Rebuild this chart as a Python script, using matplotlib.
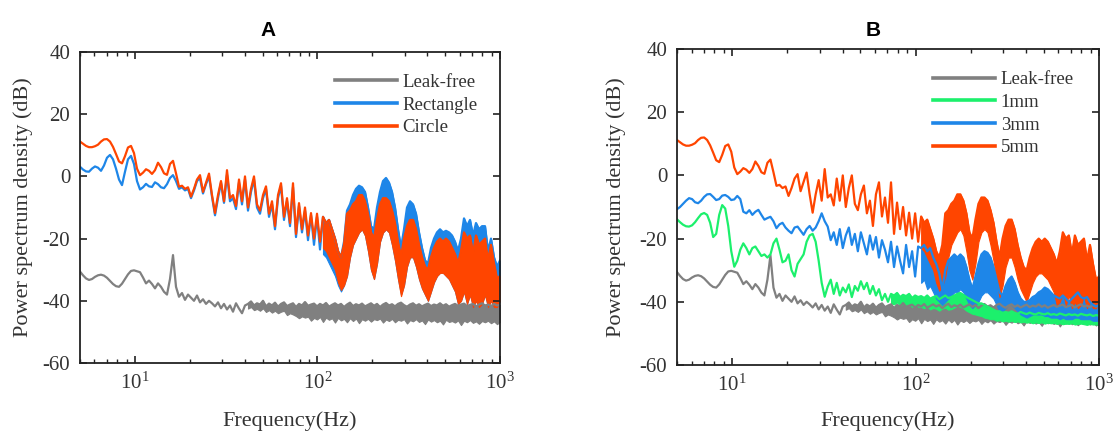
import numpy as np
import matplotlib
matplotlib.use('Agg')
import matplotlib.pyplot as plt
from matplotlib.ticker import LogLocator, NullFormatter, FixedLocator

# sample frequencies (Hz), log-spaced grid on which values were read
freq = np.geomspace(5, 1000, 141)

# ---------------- values (dB) ----------------
leak_db = [
    -30.6, -31.8, -32.8, -33.3, -33.0, -32.3, -31.8, -31.6, -31.9, -32.6,
    -33.6, -34.6, -35.3, -35.5, -34.5, -33.0, -31.5, -30.4, -30.2, -30.5,
    -30.8, -32.5, -34.4, -33.5, -34.6, -36.0, -34.4, -35.5, -37.1, -38.0,
    -33.0, -25.3, -35.5, -38.7, -37.5, -39.7, -38.0, -39.0, -40.0, -38.3,
    -40.5, -39.5, -41.0, -40.0, -40.8, -41.8, -40.5, -42.4, -41.0, -42.8,
    -41.5, -43.5, -40.8, -42.5, -44.0, -41.5,
    -41.0, -40.2, -41.5, -40.8, -41.2, -40.0, -41.8, -40.9, -41.5, -40.6,
    -41.9, -41.0, -40.5, -41.7, -41.2, -40.8, -42.0, -41.0, -41.5, -40.4,
    -41.6, -41.2, -40.9, -41.8, -41.0, -41.5, -40.7, -41.9, -41.3, -40.8,
    -41.5, -41.0, -42.0, -41.2, -40.6, -41.7, -41.1, -41.5, -40.9, -41.8,
    -41.3, -40.8, -41.6, -41.0, -42.0, -41.2, -40.7, -41.5, -41.1, -41.8,
    -41.0, -40.6, -41.4, -41.9, -41.2, -40.8, -41.6, -41.1, -41.8, -41.3,
    -40.9, -41.7, -41.2, -41.5, -40.8, -41.6, -41.1, -41.9, -41.4, -41.0,
    -41.6, -41.2, -40.9, -41.7, -41.3, -41.0, -41.8, -41.2, -40.8, -41.5,
    -41.2, -41.7, -41.0, -41.5, -41.3]
leak_floor = [  # lower edge of the noise band, from sample 56 on
    -42.5, -42.0, -43.0, -42.6, -43.2, -42.4, -43.6, -43.0, -43.8, -43.2,
    -44.0, -43.5, -43.2, -44.6, -44.0, -44.4, -44.9, -45.6, -45.0, -45.4,
    -45.1, -46.4, -45.5, -46.0, -45.2, -46.8, -45.4, -46.1, -45.6, -47.0,
    -45.5, -46.3, -45.8, -46.9, -45.6, -46.5, -45.7, -47.2, -45.9, -46.4,
    -45.8, -46.7, -45.9, -46.2, -45.7, -47.0, -46.0, -46.5, -45.8, -46.9,
    -46.1, -46.4, -45.9, -47.3, -46.2, -46.6, -45.9, -46.8, -46.3, -47.5,
    -46.0, -46.7, -46.2, -46.9, -46.4, -47.6, -46.1, -46.8, -46.5, -47.0,
    -46.3, -47.8, -46.4, -46.9, -46.2, -47.1, -46.6, -47.4, -46.5, -46.9,
    -46.4, -47.2, -46.6, -47.5, -46.8]

circle_db = [  # also the 5mm series in panel B
    11.2, 10.5, 9.8, 9.4, 9.4, 9.7, 10.2, 11.2, 11.9, 12.0,
    11.2, 9.5, 7.2, 4.8, 4.2, 6.5, 9.3, 9.8, 7.5, 2.5,
    0.4, 1.2, 2.3, 1.8, 0.8, 2.0, 4.4, 3.0, 1.0, 0.5,
    4.0, 5.0, 1.0, -3.3, -3.0, -4.0, -3.5, -6.5, -4.0, -1.0,
    0.4, -5.0, -2.0, 0.9, -6.0, -11.8, -6.0, -1.5, -8.0, 2.0,
    -7.0, -6.0, -9.5, -1.0, -8.0, 0.0, -10.0, -4.0, 0.0, -9.0,
    -11.0, -6.0, -3.2, -12.0, -8.0, -16.0, -6.0, -2.2, -13.0, -7.0,
    -15.0, -2.2, -18.5, -8.6, -17.0, -10.0, -19.0, -11.8, -20.0, -12.0,
    -21.0, -13, -15, -14, -17, -20, -24, -26, -22, -12,
    -11, -9, -8, -6, -6, -8, -12, -18, -20, -14,
    -9, -7, -7, -8, -11, -15, -21, -26, -20, -16,
    -14, -14, -17, -22, -26, -29, -30, -26, -23, -21,
    -20, -21, -20, -21, -23, -25, -28, -24, -18, -20,
    -19, -25, -19, -22, -21, -20, -27, -22, -28, -33, -32]
circle_floor = [  # from sample 81 on
    -23, -24, -26, -28, -30, -34, -36.5, -35, -32, -26,
    -22, -20, -18, -17, -19, -24, -30, -33, -28, -21,
    -18, -17, -18, -22, -27, -33, -38.5, -35, -29, -26,
    -26, -29, -33, -36, -38, -40, -37, -34, -32, -31,
    -31, -32, -33, -35, -37, -41, -40, -37, -41, -38,
    -42, -40, -42, -41, -38, -42, -40, -42, -42, -40]

rect_db = [
    3.1, 2.2, 1.6, 1.5, 2.5, 3.2, 2.8, 1.8, 3.5, 6.0,
    6.9, 5.5, 2.5, -1.0, -2.8, 1.5, 5.5, 6.6, 4.0, -1.5,
    -4.2, -3.5, -2.4, -3.2, -3.4, -1.9, -2.5, -3.5, -3.8, -2.5,
    -0.5, 0.4, -1.5, -4.0, -3.5, -4.5, -4.0, -7.0, -4.5, -1.5,
    -0.5, -5.5, -2.5, 0.0, -6.5, -12.5, -7.0, -2.0, -8.5, 0.5,
    -8.0, -7.0, -10.5, -2.0, -9.0, -1.0, -11.0, -5.0, -1.0, -10.0,
    -12.0, -7.0, -4.0, -13.0, -9.0, -17.0, -7.0, -3.0, -14.0, -8.0,
    -16.0, -3.5, -19.5, -9.5, -18.0, -11.0, -20.5, -12.5, -22.0, -13.0,
    -23.5, -13, -15, -14, -17, -20, -24, -26, -21, -11,
    -9, -6, -4, -3, -3.5, -5, -10, -16, -17, -10,
    -5, -1.5, -0.5, -2, -5, -10, -17, -23, -17, -10,
    -8, -9, -12, -18, -23, -27, -28, -23, -20, -18,
    -17, -18, -17.5, -18, -19, -21, -24, -20, -13.5, -16,
    -14, -19, -15, -17, -16, -16, -24, -20, -26, -29, -27]
rect_floor = [  # from sample 81 on
    -25, -26, -28, -30, -32, -35, -37, -35, -32, -26,
    -22, -20, -18, -17, -19, -24, -30, -33, -28, -21,
    -18, -17, -18, -22, -27, -33, -38, -35, -29, -26,
    -26, -29, -33, -36, -38, -40, -37, -34, -32, -31,
    -31, -32, -33, -35, -37, -41, -40, -37, -41, -38,
    -42, -40, -42, -41, -38, -42, -40, -42, -42, -40]

mm1_db = [
    -13.9, -14.8, -15.6, -16.1, -16.2, -15.8, -14.8, -13.5, -12.3, -11.9,
    -12.5, -15.0, -19.5, -18.5, -12.5, -9.4, -10.5, -16.0, -24.0, -28.9,
    -27.0, -23.5, -21.5, -23.0, -25.0, -23.0, -22.5, -24.0, -25.5, -25.0,
    -26.0, -25.0, -21.5, -20.0, -23.5, -27.5, -27.0, -25.0, -30.0, -32.0,
    -28.0, -26.5, -25.0, -21.0, -19.0, -18.5, -21.0, -27.0, -34.0, -38.4,
    -35.2, -33.0, -37.5, -34.0, -38.0, -35.5, -37.0, -34.5, -38.5, -35.0,
    -36.5, -33.5, -36.0, -34.0, -37.5, -35.0, -38.0, -36.0, -39.5, -37.5,
    -40.0,
    -37.5, -38.0, -37.2, -38.5, -37.8, -38.2, -37.5, -38.8, -38.0, -38.5,
    -38.2, -38.8, -38.0, -39.0, -38.5, -38.2, -39.2, -38.6, -38.0, -38.8,
    -38.5, -38.0, -37.5, -37.2, -37.8, -38.5, -39.0, -39.5, -40.0, -40.5,
    -40.5, -41.0, -41.5, -42.0, -42.5, -43.0, -43.0, -43.5, -43.2, -43.5,
    -43.0, -43.5, -43.8, -43.2, -43.6, -43.9, -43.4, -43.8, -44.0, -43.5,
    -43.8, -44.0, -43.6, -44.1, -43.9, -44.2, -43.7, -44.0, -44.3, -43.9,
    -44.2, -44.0, -44.4, -43.8, -44.1, -44.3, -44.0, -44.5, -44.2, -44.4]
mm1_floor = [  # from sample 71 on
    -40.5, -40.8, -40.2, -41.2, -40.6, -41.3, -40.6, -41.6, -41.0, -41.5,
    -41.6, -42.0, -41.5, -42.4, -41.9, -42.2, -42.8, -42.1, -41.8, -42.5,
    -42.3, -41.8, -41.3, -41.5, -42.0, -42.8, -43.3, -43.8, -44.0, -44.3,
    -44.5, -45.0, -45.2, -45.5, -45.5, -46.0, -45.8, -46.2, -46.0, -46.3,
    -46.0, -46.4, -46.2, -46.5, -46.3, -46.6, -46.4, -46.8, -46.5, -46.7,
    -46.5, -46.9, -46.6, -46.8, -46.7, -47.0, -46.8, -47.1, -46.9, -47.0,
    -46.8, -47.2, -47.0, -46.9, -47.1, -47.3, -47.0, -47.2, -47.1, -47.4]

mm3_db = [
    -10.7, -10.0, -9.0, -8.0, -7.2, -7.5, -8.5, -8.8, -8.0, -6.8,
    -6.0, -5.9, -6.8, -7.8, -7.5, -6.4, -6.2, -6.8, -7.8, -7.6,
    -6.5, -7.5, -11.5, -12.0, -11.0, -12.5, -11.5, -10.9, -12.5, -14.0,
    -13.5, -13.1, -14.5, -16.7, -15.5, -15.0, -16.5, -17.5, -18.3, -16.5,
    -16.2, -17.5, -18.8, -17.0, -16.0, -17.5, -16.5, -14.5, -12.0, -14.5,
    -16.2, -20.5, -18.0, -22.0, -17.0, -23.0, -19.0, -16.5, -22.0, -18.5,
    -24.0, -18.0, -21.5, -25.0, -19.0, -23.5, -19.5, -26.0, -20.5, -23.5,
    -27.5, -21.0, -29.0, -22.5, -27.0, -31.0, -22.0, -29.0, -24.0, -32.0,
    -22.5, -23, -22, -24, -23, -26, -28, -31, -36, -30,
    -27, -26, -25, -26, -25, -26, -29, -33, -36, -32,
    -28, -25, -24, -24.5, -26, -29, -33, -37, -38, -35,
    -33, -32, -34, -37, -39, -40, -40, -39.5, -38.5, -38,
    -37, -36.5, -35.5, -36, -37, -38, -38.5, -39, -38, -39,
    -40, -39, -38, -37, -38.5, -39, -38.5, -40, -41, -41.5, -41]
mm3_floor = [  # from sample 81 on
    -34, -33, -36, -35, -37, -39, -40, -41, -40, -39,
    -38, -37, -37, -36, -37, -39, -41, -42, -41, -40,
    -38, -37, -37, -38, -39, -41, -43, -43, -42, -41,
    -41, -42, -43, -44, -44.5, -45, -44.5, -44, -44, -44,
    -44, -44.5, -44.5, -45, -45, -45, -45.5, -45, -45.5, -45.5,
    -45.5, -45, -45, -45.5, -45.5, -45.5, -45.5, -46, -46, -46]

# ---------------- style ----------------
plt.rcParams['font.family'] = ['Liberation Serif', 'DejaVu Serif']
plt.rcParams['mathtext.fontset'] = 'custom'
plt.rcParams['mathtext.rm'] = 'Liberation Serif'
plt.rcParams['mathtext.it'] = 'Liberation Serif:italic'
plt.rcParams['axes.unicode_minus'] = False

GRAY = '#808080'
BLUE = '#1E86E8'
RED = '#FF4500'
GREEN = '#1CF06C'

fig = plt.figure(figsize=(11.17, 4.32), dpi=100)
axA = fig.add_axes([80 / 1117, 1 - 363 / 432, 420 / 1117, 311 / 432])
axB = fig.add_axes([677 / 1117, 1 - 365 / 432, 422 / 1117, 316 / 432])


def draw(ax, db, floor, start, color, label):
    db = np.asarray(db, dtype=float)
    line, = ax.plot(freq, db, color=color, lw=1.6, label=label,
                    solid_joinstyle='round')
    if floor is not None:
        ax.fill_between(freq[start:], floor, db[start:], color=color,
                        lw=0.8)
    return line


hA = [draw(axA, leak_db, leak_floor, 56, GRAY, 'Leak-free'),
      draw(axA, rect_db, rect_floor, 81, BLUE, 'Rectangle'),
      draw(axA, circle_db, circle_floor, 81, RED, 'Circle')]
hB = [draw(axB, leak_db, leak_floor, 56, GRAY, 'Leak-free'),
      draw(axB, mm1_db, mm1_floor, 71, GREEN, '1mm'),
      draw(axB, mm3_db, mm3_floor, 81, BLUE, '3mm'),
      draw(axB, circle_db, circle_floor, 81, RED, '5mm')]

for ax, handles, ylab_x, xlab_y in ((axA, hA, -0.112, -0.155),
                                    (axB, hB, -0.121, -0.147)):
    ax.set_xscale('log')
    ax.set_xlim(5, 1000)
    ax.set_ylim(-60, 40)
    ax.set_yticks([-60, -40, -20, 0, 20, 40])
    ax.xaxis.set_major_locator(FixedLocator([10, 100, 1000]))
    ax.xaxis.set_minor_locator(LogLocator(base=10, subs=np.arange(2, 10)))
    ax.xaxis.set_minor_formatter(NullFormatter())
    ax.tick_params(which='both', direction='in', top=True, right=True,
                   labelsize=15, colors='#222222', labelcolor='#333333')
    ax.tick_params(which='major', length=5, width=1.2, pad=7)
    ax.tick_params(which='minor', length=3, width=1.0)
    for s in ax.spines.values():
        s.set_linewidth(1.3)
        s.set_color('#222222')
    ax.set_xlabel('Frequency(Hz)', fontsize=16, color='#333333')
    ax.set_ylabel('Power spectrum density (dB)', fontsize=16,
                  color='#333333')
    ax.xaxis.set_label_coords(0.5, xlab_y)
    ax.yaxis.set_label_coords(ylab_x, 0.5)
    leg = ax.legend(handles=handles, loc='upper left',
                    bbox_to_anchor=(0.607, 0.93), frameon=False,
                    fontsize=13.5, handlelength=3.3, handletextpad=0.3,
                    labelspacing=0.3, borderpad=0, borderaxespad=0)
    for ln in leg.get_lines():
        ln.set_linewidth(2.6)
    for t in leg.get_texts():
        t.set_color('#333333')

fig.text(268 / 1117, 1 - 31 / 432, 'A', fontsize=15, fontweight='bold',
         family='Liberation Sans', ha='center', va='center')
fig.text(873 / 1117, 1 - 31 / 432, 'B', fontsize=15, fontweight='bold',
         family='Liberation Sans', ha='center', va='center')

fig.savefig('out.png', dpi=100)
